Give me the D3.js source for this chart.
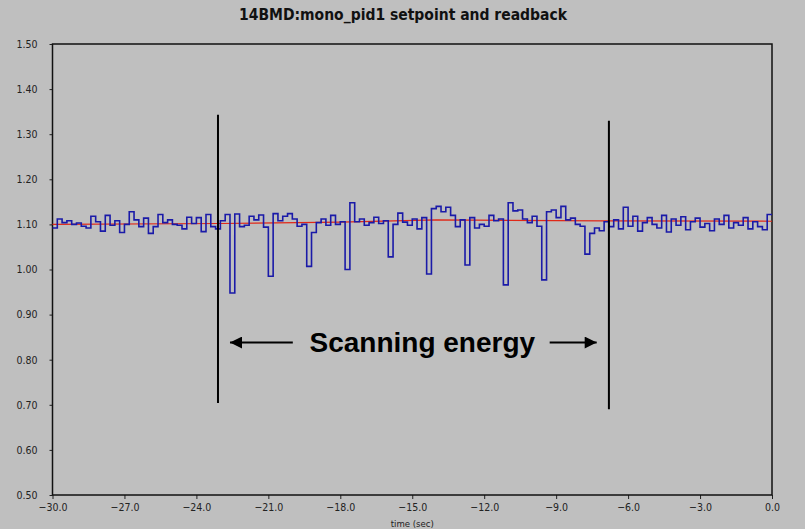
<!DOCTYPE html>
<html>
<head>
<meta charset="utf-8">
<script src="https://cdn.jsdelivr.net/npm/d3@7"></script>
<style>
  body { margin: 0; background: #bfbfbf; }
  svg { display: block; }
</style>
</head>
<body>
<div id="chart"></div>
<script>
// readback sampled every 0.2 s from -30 s to 0 s
const startTime = -30;
const sampleStep = 0.2;
const readback = [
  1.092, 1.112, 1.104, 1.108, 1.100, 1.103, 1.096, 1.092, 1.118, 1.106,
  1.085, 1.120, 1.098, 1.108, 1.082, 1.100, 1.128, 1.110, 1.095, 1.114,
  1.080, 1.095, 1.122, 1.104, 1.110, 1.100, 1.098, 1.090, 1.116, 1.102,
  1.115, 1.084, 1.122, 1.095, 1.090, 1.108, 1.122, 0.948, 1.123, 1.095,
  1.098, 1.118, 1.110, 1.121, 1.094, 0.985, 1.124, 1.108, 1.118, 1.124,
  1.112, 1.096, 1.100, 1.007, 1.082, 1.104, 1.112, 1.098, 1.120, 1.100,
  1.106, 1.000, 1.148, 1.106, 1.112, 1.098, 1.104, 1.116, 1.102, 1.108,
  1.028, 1.100, 1.125, 1.105, 1.098, 1.112, 1.090, 1.115, 0.990, 1.135,
  1.140, 1.128, 1.138, 1.120, 1.095, 1.110, 1.010, 1.115, 1.092, 1.100,
  1.096, 1.120, 1.108, 1.112, 0.966, 1.148, 1.130, 1.132, 1.112, 1.104,
  1.118, 1.096, 0.977, 1.128, 1.132, 1.115, 1.140, 1.110, 1.114, 1.100,
  1.096, 1.034, 1.080, 1.092, 1.086, 1.106, 1.095, 1.110, 1.090, 1.138,
  1.096, 1.118, 1.085, 1.104, 1.115, 1.100, 1.092, 1.120, 1.083, 1.112,
  1.098, 1.117, 1.088, 1.106, 1.114, 1.094, 1.102, 1.086, 1.112, 1.100,
  1.120, 1.092, 1.104, 1.098, 1.115, 1.090, 1.106, 1.095, 1.088, 1.122
];

const setpointTimes = [-30, -23, -18, -14, -7, 0];
const setpointValues = [1.100, 1.102, 1.105, 1.110, 1.108, 1.107];

const xTicks = [-30, -27, -24, -21, -18, -15, -12, -9, -6, -3, 0];
const yTicks = [0.5, 0.6, 0.7, 0.8, 0.9, 1.0, 1.1, 1.2, 1.3, 1.4, 1.5];

// scan start / end markers
const markerTimes = [-23.1, -6.8];
const markerLow = [0.704, 0.69];
const markerHigh = [1.343, 1.33];

const width = 805;
const height = 529;
const margin = { top: 44, right: 33, bottom: 34, left: 52.5 };

const svg = d3.select('#chart')
  .append('svg')
  .attr('width', width)
  .attr('height', height);

svg.append('rect')
  .attr('width', width)
  .attr('height', height)
  .attr('fill', '#bfbfbf');

const xScale = d3.scaleLinear()
  .domain([-30, 0])
  .range([margin.left, width - margin.right]);

const yScale = d3.scaleLinear()
  .domain([0.5, 1.5])
  .range([height - margin.bottom, margin.top]);

const tickFont = "'Liberation Sans Narrow', 'DejaVu Sans Condensed', Arial, sans-serif";

// title
svg.append('text')
  .attr('x', 403)
  .attr('y', 20)
  .attr('text-anchor', 'middle')
  .style('font-family', tickFont)
  .style('font-weight', 'bold')
  .style('font-size', '15.5px')
  .attr('fill', '#111')
  .text('14BMD:mono_pid1 setpoint and readback');

// axes
const xAxis = d3.axisBottom(xScale)
  .tickValues(xTicks)
  .tickSize(4)
  .tickSizeOuter(0)
  .tickPadding(5)
  .tickFormat(d3.format('.1f'));

const yAxis = d3.axisLeft(yScale)
  .tickValues(yTicks)
  .tickSize(3)
  .tickSizeOuter(0)
  .tickPadding(12)
  .tickFormat(d3.format('.2f'));

const gx = svg.append('g')
  .attr('transform', `translate(0, ${yScale(0.5)})`)
  .call(xAxis);

const gy = svg.append('g')
  .attr('transform', `translate(${xScale(-30)}, 0)`)
  .call(yAxis);

[gx, gy].forEach((g) => {
  g.select('.domain').remove();
  g.selectAll('line').attr('stroke', '#222');
  g.selectAll('text')
    .style('font-family', tickFont)
    .style('font-size', '10.5px')
    .attr('fill', '#222');
});
gx.selectAll('text').text((d) => d3.format('.1f')(d).replace('-', '\u2013'));

svg.append('text')
  .attr('x', xScale(-15))
  .attr('y', 527)
  .attr('text-anchor', 'middle')
  .style('font-family', tickFont)
  .style('font-size', '9.5px')
  .attr('fill', '#222')
  .text('time (sec)');

// frame
svg.append('rect')
  .attr('x', xScale(-30))
  .attr('y', yScale(1.5))
  .attr('width', xScale(0) - xScale(-30))
  .attr('height', yScale(0.5) - yScale(1.5))
  .attr('fill', 'none')
  .attr('stroke', '#111')
  .attr('stroke-width', 1.5);

// setpoint (red)
const setpointLine = d3.line()
  .x((d, i) => xScale(setpointTimes[i]))
  .y((d) => yScale(d));

svg.append('path')
  .datum(setpointValues)
  .attr('d', setpointLine)
  .attr('fill', 'none')
  .attr('stroke', '#e02818')
  .attr('stroke-width', 1.2);

// readback (blue step)
const readbackPoints = readback.map((v, i) => [startTime + i * sampleStep, v]);
readbackPoints.push([0, readback[readback.length - 1]]);

const stepLine = d3.line()
  .x((d) => xScale(d[0]))
  .y((d) => yScale(d[1]))
  .curve(d3.curveStepAfter);

svg.append('path')
  .datum(readbackPoints)
  .attr('d', stepLine)
  .attr('fill', 'none')
  .attr('stroke', '#1a1aa8')
  .attr('stroke-width', 1.6);

// scan markers
svg.append('g')
  .selectAll('line')
  .data(markerTimes)
  .join('line')
  .attr('x1', (d) => xScale(d))
  .attr('x2', (d) => xScale(d))
  .attr('y1', (d, i) => yScale(markerHigh[i]))
  .attr('y2', (d, i) => yScale(markerLow[i]))
  .attr('stroke', '#000')
  .attr('stroke-width', 2);

// annotation
const arrowValue = 0.838;
svg.append('defs').append('marker')
  .attr('id', 'head')
  .attr('viewBox', '0 0 10 10')
  .attr('refX', 10)
  .attr('refY', 5)
  .attr('markerWidth', 13)
  .attr('markerHeight', 12)
  .attr('markerUnits', 'userSpaceOnUse')
  .attr('orient', 'auto')
  .append('path')
  .attr('d', 'M0,0 L10,5 L0,10 Z')
  .attr('fill', '#000');

const arrows = [[-19.98, -22.6], [-9.27, -7.31]];
svg.append('g')
  .selectAll('line')
  .data(arrows)
  .join('line')
  .attr('x1', (d) => xScale(d[0]))
  .attr('x2', (d) => xScale(d[1]))
  .attr('y1', yScale(arrowValue))
  .attr('y2', yScale(arrowValue))
  .attr('stroke', '#000')
  .attr('stroke-width', 2)
  .attr('marker-end', 'url(#head)');

svg.append('text')
  .attr('x', xScale(-14.58))
  .attr('y', yScale(0.817))
  .attr('text-anchor', 'middle')
  .style('font-family', "'Liberation Sans', Arial, sans-serif")
  .style('font-weight', 'bold')
  .style('font-size', '28px')
  .attr('fill', '#000')
  .text('Scanning energy');
</script>
</body>
</html>
